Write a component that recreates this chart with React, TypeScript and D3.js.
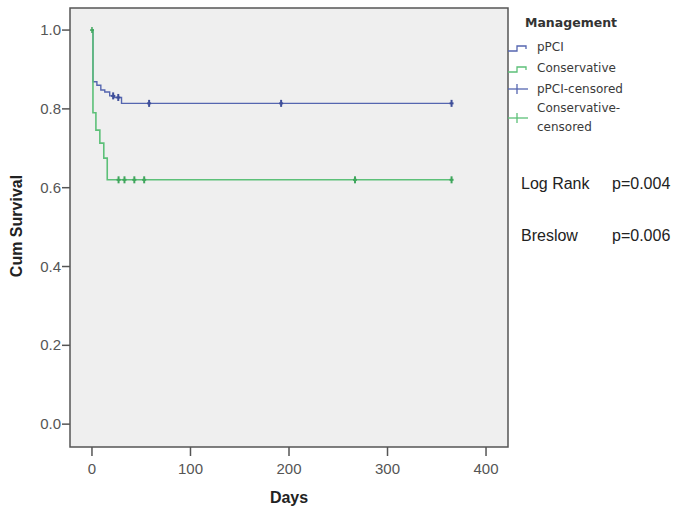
import React from "react";
import * as d3 from "d3";

const W = 673;
const H = 507;

// Kaplan-Meier step data (days, cumulative survival)
const pciTimes = [0, 1, 5, 9, 13, 18, 23, 30, 365];
const pciSurv = [1.0, 0.869, 0.86, 0.848, 0.843, 0.833, 0.829, 0.814, 0.814];
const pciCensored = [21.5, 26.7, 58, 192, 365];

const consTimes = [0, 1, 4, 8, 12, 15.5, 365];
const consSurv = [1.0, 0.79, 0.746, 0.713, 0.675, 0.62, 0.62];
const consCensored = [27, 33, 43, 53, 267, 365];

const xTicks = [0, 100, 200, 300, 400];
const yTicks = [0, 0.2, 0.4, 0.6, 0.8, 1.0];

const legendLabels = ["pPCI", "Conservative", "pPCI-censored", "Conservative-", "censored"];

const BLUE = "#5566b0";
const GREEN = "#5cc078";
const BLUE_DARK = "#3f4f9a";
const GREEN_DARK = "#3fa65c";

function survAt(times: number[], surv: number[], t: number) {
  let s = surv[0];
  for (let i = 0; i < times.length; i++) if (times[i] <= t) s = surv[i];
  return s;
}

export default function App() {
  const x = d3.scaleLinear().domain([-22.3, 422.3]).range([70, 508]);
  const y = d3.scaleLinear().domain([-0.058, 1.056]).range([447, 8]);
  const [x0, x1] = x.range();
  const [yb, yt] = y.range();

  const line = d3
    .line<[number, number]>()
    .x((d) => x(d[0]))
    .y((d) => y(d[1]))
    .curve(d3.curveStepAfter);

  const pciPts = pciTimes.map((t, i) => [t, pciSurv[i]] as [number, number]);
  const consPts = consTimes.map((t, i) => [t, consSurv[i]] as [number, number]);

  const tickFont = { fontFamily: "Liberation Sans, Arial, sans-serif", fontSize: 15, fill: "#555" };
  const legFont = { fontFamily: "DejaVu Sans, sans-serif", fontSize: 12, fill: "#3a3a3a" };

  const lx = x1; // legend symbol start
  return (
    <svg width={W} height={H} style={{ position: "absolute", left: 0, top: 0, background: "#fff" }}>
      <rect x={x0} y={yt} width={x1 - x0} height={yb - yt} fill="#efefef" />
      {/* curves */}
      <path d={line(pciPts) || ""} fill="none" stroke={BLUE} strokeWidth={1.4} />
      <path d={line(consPts) || ""} fill="none" stroke={GREEN} strokeWidth={1.6} />
      {/* censor marks */}
      {consCensored.map((t, i) => {
        const cx = x(t);
        const cy = y(survAt(consTimes, consSurv, t));
        return (
          <g key={"cc" + i}>
            <line x1={cx} x2={cx} y1={cy - 3.5} y2={cy + 3.5} stroke={GREEN_DARK} strokeWidth={2} />
            <line x1={cx - 2} x2={cx + 2} y1={cy} y2={cy} stroke={GREEN_DARK} strokeWidth={2} />
          </g>
        );
      })}
      {pciCensored.map((t, i) => {
        const cx = x(t);
        const cy = y(survAt(pciTimes, pciSurv, t));
        return (
          <g key={"pc" + i}>
            <line x1={cx} x2={cx} y1={cy - 3.5} y2={cy + 3.5} stroke={BLUE_DARK} strokeWidth={2} />
            <line x1={cx - 2} x2={cx + 2} y1={cy} y2={cy} stroke={BLUE_DARK} strokeWidth={2} />
          </g>
        );
      })}
      {/* green start marker */}
      <line x1={x(0)} x2={x(0)} y1={y(1) - 3} y2={y(1) + 3} stroke={GREEN_DARK} strokeWidth={1.5} />
      <line x1={x(0) - 2} x2={x(0) + 2} y1={y(1)} y2={y(1)} stroke={GREEN_DARK} strokeWidth={1.5} />
      {/* frame */}
      <rect x={x0} y={yt} width={x1 - x0} height={yb - yt} fill="none" stroke="#555" strokeWidth={1.5} />
      {/* y axis */}
      {yTicks.map((v) => (
        <g key={"y" + v}>
          <line x1={x0 - 8} x2={x0} y1={y(v)} y2={y(v)} stroke="#555" strokeWidth={1.5} />
          <text x={x0 - 9} y={y(v) + 5} textAnchor="end" {...tickFont}>
            {v.toFixed(1)}
          </text>
        </g>
      ))}
      {/* x axis */}
      {xTicks.map((v) => (
        <g key={"x" + v}>
          <line x1={x(v)} x2={x(v)} y1={yb} y2={yb + 9} stroke="#555" strokeWidth={1.5} />
          <text x={x(v)} y={yb + 27} textAnchor="middle" {...tickFont}>
            {v}
          </text>
        </g>
      ))}
      <text x={289} y={503} textAnchor="middle" fontFamily="Liberation Sans, Arial, sans-serif" fontWeight="bold" fontSize={16} fill="#222">
        Days
      </text>
      <text
        transform="translate(22,226) rotate(-90)"
        textAnchor="middle"
        fontFamily="Liberation Sans, Arial, sans-serif"
        fontWeight="bold"
        fontSize={16}
        fill="#222"
      >
        Cum Survival
      </text>
      {/* legend */}
      <text x={525} y={27} fontFamily="DejaVu Sans, sans-serif" fontWeight="bold" fontSize={12.5} fill="#333">
        Management
      </text>
      <path d={`M${lx},51 H${lx + 9} V46 H${lx + 18} V49`} fill="none" stroke={BLUE} strokeWidth={1.3} />
      <text x={537} y={51} {...legFont}>{legendLabels[0]}</text>
      <path d={`M${lx},72 H${lx + 9} V67 H${lx + 18} V70`} fill="none" stroke={GREEN} strokeWidth={1.3} />
      <text x={537} y={72} {...legFont}>{legendLabels[1]}</text>
      <line x1={lx} x2={lx + 20} y1={89} y2={89} stroke={BLUE} strokeWidth={1.3} />
      <line x1={lx + 9} x2={lx + 9} y1={84} y2={94} stroke={BLUE} strokeWidth={1.3} />
      <text x={537} y={93} {...legFont}>{legendLabels[2]}</text>
      <line x1={lx} x2={lx + 20} y1={118} y2={118} stroke={GREEN} strokeWidth={1.3} />
      <line x1={lx + 9} x2={lx + 9} y1={113} y2={123} stroke={GREEN} strokeWidth={1.3} />
      <text x={537} y={112} {...legFont}>{legendLabels[3]}</text>
      <text x={537} y={131} {...legFont}>{legendLabels[4]}</text>
      {/* test statistics */}
      <text x={521} y={189} fontFamily="Liberation Sans, Arial, sans-serif" fontSize={16} fill="#222">Log Rank</text>
      <text x={612} y={189} fontFamily="Liberation Sans, Arial, sans-serif" fontSize={16} fill="#222">p=0.004</text>
      <text x={521} y={241} fontFamily="Liberation Sans, Arial, sans-serif" fontSize={16} fill="#222">Breslow</text>
      <text x={612} y={241} fontFamily="Liberation Sans, Arial, sans-serif" fontSize={16} fill="#222">p=0.006</text>
    </svg>
  );
}
